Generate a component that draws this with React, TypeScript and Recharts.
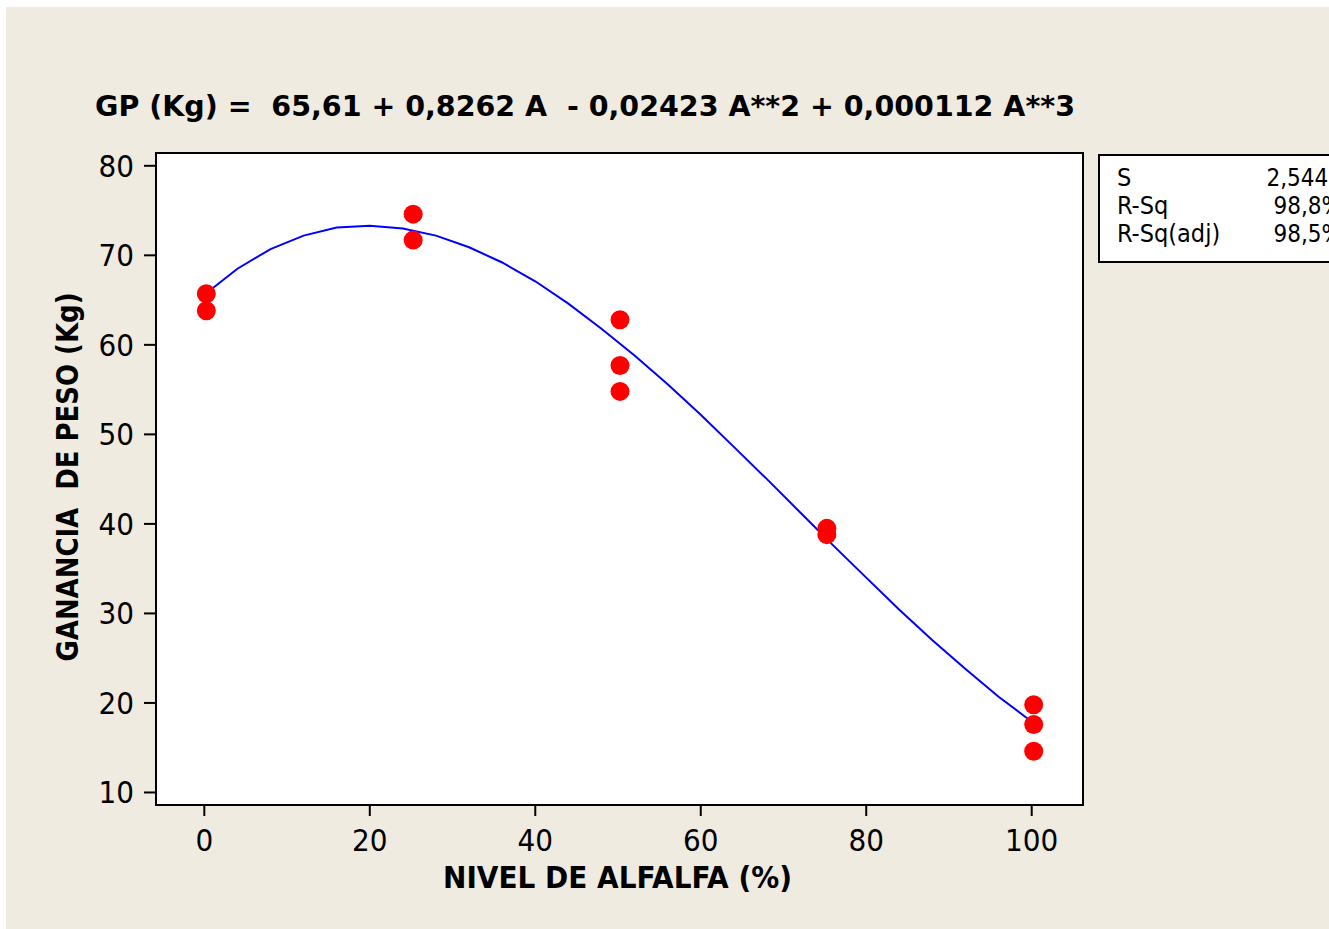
import React from "react";
import {
  CartesianGrid,
  ReferenceArea,
  Scatter,
  ScatterChart,
  XAxis,
  YAxis,
} from "recharts";

// observed weight gain per alfalfa level (three animals per level, some overlap)
const levels = [0, 0, 25, 25, 50, 50, 50, 75, 75, 100, 100, 100];
const gains = [65.7, 63.8, 74.6, 71.7, 62.8, 57.7, 54.8, 39.5, 38.8, 19.8, 17.6, 14.6];

// fitted cubic, every 4 %
const fitLevels = [0, 4, 8, 12, 16, 20, 24, 28, 32, 36, 40, 44, 48, 52, 56, 60, 64, 68, 72, 76, 80, 84, 88, 92, 96, 100];
const fitGains = [65.6, 68.5, 70.7, 72.2, 73.1, 73.3, 73.0, 72.2, 70.9, 69.2, 67.1, 64.6, 61.8, 58.8, 55.6, 52.2, 48.6, 45.0, 41.3, 37.6, 34.0, 30.4, 27.0, 23.8, 20.7, 17.9];

const xTicks = [0, 20, 40, 60, 80, 100];
const yTicks = [10, 20, 30, 40, 50, 60, 70, 80];
const xDomain: [number, number] = [-5.84, 106.2];
const yDomain: [number, number] = [8.6, 81.43];

const statLabels = ["S", "R-Sq", "R-Sq(adj)"];
const statValues = ["2,5449", "98,8%", "98,5%"];

const title = "GP (Kg) =  65,61 + 0,8262 A  - 0,02423 A**2 + 0,000112 A**3";
const xLabel = "NIVEL DE ALFALFA (%)";
const yLabel = "GANANCIA  DE PESO (Kg)";

const font = "'DejaVu Sans Condensed', 'DejaVu Sans', Tahoma, sans-serif";

const points = levels.map((x, i) => ({ x, y: gains[i] }));
const fit = fitLevels.map((x, i) => ({ x, y: fitGains[i] }));

const tickStyle = { fill: "#000", fontSize: 31, fontFamily: font };

export default function App() {
  return (
    <div style={{ position: "absolute", left: 0, top: 0, width: 1329, height: 929, background: "#fff" }}>
      <div style={{ position: "absolute", left: 6, top: 7, width: 1323, height: 922, background: "#efebe1" }} />
      <div style={{ position: "absolute", left: 0, top: 0 }}>
        <ScatterChart
          width={1329}
          height={929}
          margin={{ top: 153, right: 246, bottom: 64, left: 96 }}
        >
          <CartesianGrid fill="#ffffff" horizontal={false} vertical={false} />
          <XAxis
            type="number"
            dataKey="x"
            domain={xDomain}
            ticks={xTicks}
            allowDataOverflow
            height={60}
            axisLine={false}
            tickLine={{ stroke: "#000", strokeWidth: 2 }}
            tickSize={11}
            tickMargin={13}
            tick={tickStyle}
          />
          <YAxis
            type="number"
            dataKey="y"
            domain={yDomain}
            ticks={yTicks}
            allowDataOverflow
            width={60}
            axisLine={false}
            tickLine={{ stroke: "#000", strokeWidth: 2 }}
            tickSize={12}
            tickMargin={10}
            tick={tickStyle}
          />
          <Scatter
            data={fit}
            line={{ stroke: "#0000ff", strokeWidth: 2 }}
            lineType="joint"
            shape={() => <g />}
            isAnimationActive={false}
          />
          <Scatter
            data={points}
            shape={(p: any) => <circle cx={p.cx + 2} cy={p.cy} r={9.5} fill="#ff0000" />}
            isAnimationActive={false}
          />
          <ReferenceArea
            x1={xDomain[0]}
            x2={xDomain[1]}
            y1={yDomain[0]}
            y2={yDomain[1]}
            fill="none"
            stroke="#000"
            strokeWidth={2}
          />
        </ScatterChart>
      </div>
      <svg
        width={1329}
        height={929}
        style={{ position: "absolute", left: 0, top: 0, pointerEvents: "none" }}
        fontFamily={font}
      >
        <text x={95} y={116} fontSize={29} fontWeight="bold" textLength={980} lengthAdjust="spacingAndGlyphs" xmlSpace="preserve" style={{ whiteSpace: "pre" }}>
          {title}
        </text>
        <text x={443} y={888} fontSize={31} fontWeight="bold" textLength={349} lengthAdjust="spacingAndGlyphs">
          {xLabel}
        </text>
        <text
          x={0}
          y={0}
          transform="translate(78,477) rotate(-90)"
          textAnchor="middle"
          fontSize={31}
          fontWeight="bold"
          textLength={369}
          lengthAdjust="spacingAndGlyphs"
          xmlSpace="preserve"
          style={{ whiteSpace: "pre" }}
        >
          {yLabel}
        </text>
        <rect x={1099} y={155} width={260} height={107} fill="#fff" stroke="#000" strokeWidth={2} />
        {statLabels.map((s, i) => (
          <text key={s} x={1117} y={186 + i * 28} fontSize={25}>
            {s}
          </text>
        ))}
        {statValues.map((v, i) => (
          <text key={v} x={1342} y={186 + i * 28} fontSize={24} textAnchor="end">
            {v}
          </text>
        ))}
      </svg>
    </div>
  );
}
